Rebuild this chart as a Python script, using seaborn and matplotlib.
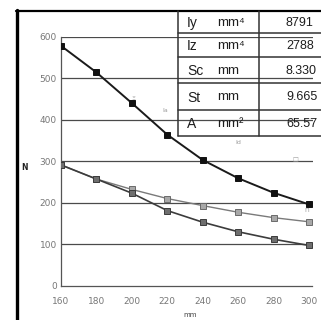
import seaborn as sns
import pandas as pd
import matplotlib.pyplot as plt
from matplotlib.lines import Line2D

# data
length_mm = [160, 180, 200, 220, 240, 260, 280, 300]
n_upper = [578, 514, 440, 364, 303, 259, 224, 196]
n_mid = [291, 257, 232, 210, 193, 177, 164, 154]
n_lower = [291, 257, 223, 181, 153, 130, 112, 97]
series_names = ['upper', 'mid', 'lower']
y_ticks = [0, 100, 200, 300, 400, 500, 600]
x_ticks = [160, 180, 200, 220, 240, 260, 280, 300]

table_labels = ['Iy', 'Iz', 'Sc', 'St', 'A']
table_units = ['mm\u2074', 'mm\u2074', 'mm', 'mm', 'mm\u00b2']
table_values = ['8791', '2788', '8.330', '9.665', '65.57']

df = pd.DataFrame({
    'mm': length_mm * 3,
    'N': n_upper + n_mid + n_lower,
    'series': [s for s in series_names for _ in length_mm],
})

sns.set_style('white')
plt.rcParams['font.family'] = ['DejaVu Sans']

fig = plt.figure(figsize=(3.21, 3.20), dpi=100)
W, H = 321, 320
def fx(px):
    return px / W
def fy(py):
    return 1 - py / H

ax = fig.add_axes([fx(61), fy(285.7), fx(312.5) - fx(61), fy(36.7) - fy(285.7)])

styles = {
    'upper': dict(color='#1a1a1a', mfc='#111111', mec='#111111', lw=1.4),
    'mid': dict(color='#7a7a7a', mfc='#a8a8a8', mec='#6a6a6a', lw=1.0),
    'lower': dict(color='#3c3c3c', mfc='#6e6e6e', mec='#3c3c3c', lw=1.2),
}
for name in series_names:
    st = styles[name]
    sns.lineplot(data=df[df['series'] == name], x='mm', y='N', ax=ax,
                 color=st['color'], marker='s', markersize=4.2,
                 markerfacecolor=st['mfc'], markeredgecolor=st['mec'],
                 markeredgewidth=0.7, linewidth=st['lw'], legend=False,
                 zorder=3)

ax.set_xlim(160, 302)
ax.set_ylim(0, 600)
ax.set_yticks(y_ticks)
ax.set_xticks(x_ticks)
ax.set_xlabel('')
ax.set_ylabel('')
for v in y_ticks[1:]:
    ax.axhline(v, color='#4a4a4a', lw=0.9, zorder=1)
for s in ['top', 'right']:
    ax.spines[s].set_visible(False)
for s in ['left', 'bottom']:
    ax.spines[s].set_color('#555555')
    ax.spines[s].set_linewidth(0.9)
ax.tick_params(axis='y', length=0, pad=3, labelsize=6.5, labelcolor='#777777')
ax.tick_params(axis='x', direction='in', length=3, width=0.7, color='#777777',
               pad=8, labelsize=6.5, labelcolor='#777777')
ax.set_facecolor('none')

# axis captions
fig.text(fx(25), fy(168), 'N', fontsize=5.5, fontweight='bold', color='#222222',
         ha='center', va='center')
fig.text(fx(190), fy(315), 'mm', fontsize=5, color='#444444', ha='center', va='center')

# tiny scanned series marks
for px, py, t in [(133, 98, '\u039e'), (165, 110, 'Ia'), (238, 143, 'Id'),
                  (307, 211, '\u03a0'), (295, 160, '\u25a1')]:
    fig.text(fx(px), fy(py), t, fontsize=4.5, color='#9a9a9a', ha='center', va='center')

# frame
fig.add_artist(Line2D([fx(17), fx(17)], [fy(10), fy(330)], color='black', lw=2.4))
fig.add_artist(Line2D([fx(16), fx(330)], [fy(11), fy(11)], color='black', lw=1.6))

# property table
tbl_font = ['Liberation Sans', 'DejaVu Sans']
row_lines = [11, 33, 57, 83, 110, 136]
for i in range(len(table_labels)):
    yc = (row_lines[i] + row_lines[i + 1]) / 2 + 1
    fig.text(fx(187), fy(yc), table_labels[i], fontsize=10, family=tbl_font,
             color='#1e1e1e', ha='left', va='center')
    fig.text(fx(217), fy(yc), table_units[i], fontsize=9.5, family=tbl_font,
             color='#1e1e1e', ha='left', va='center')
    fig.text(fx(286), fy(yc), table_values[i], fontsize=9, family=tbl_font,
             color='#1e1e1e', ha='left', va='center')
for i, ry in enumerate(row_lines):
    if i == 0:
        continue
    fig.add_artist(Line2D([fx(178), fx(330)], [fy(ry), fy(ry)], color='#333333', lw=1.1))
fig.add_artist(Line2D([fx(178), fx(178)], [fy(11), fy(136)], color='#333333', lw=1.1))
fig.add_artist(Line2D([fx(259), fx(259)], [fy(11), fy(136)], color='#333333', lw=1.1))

fig.savefig('out.png', dpi=100)
